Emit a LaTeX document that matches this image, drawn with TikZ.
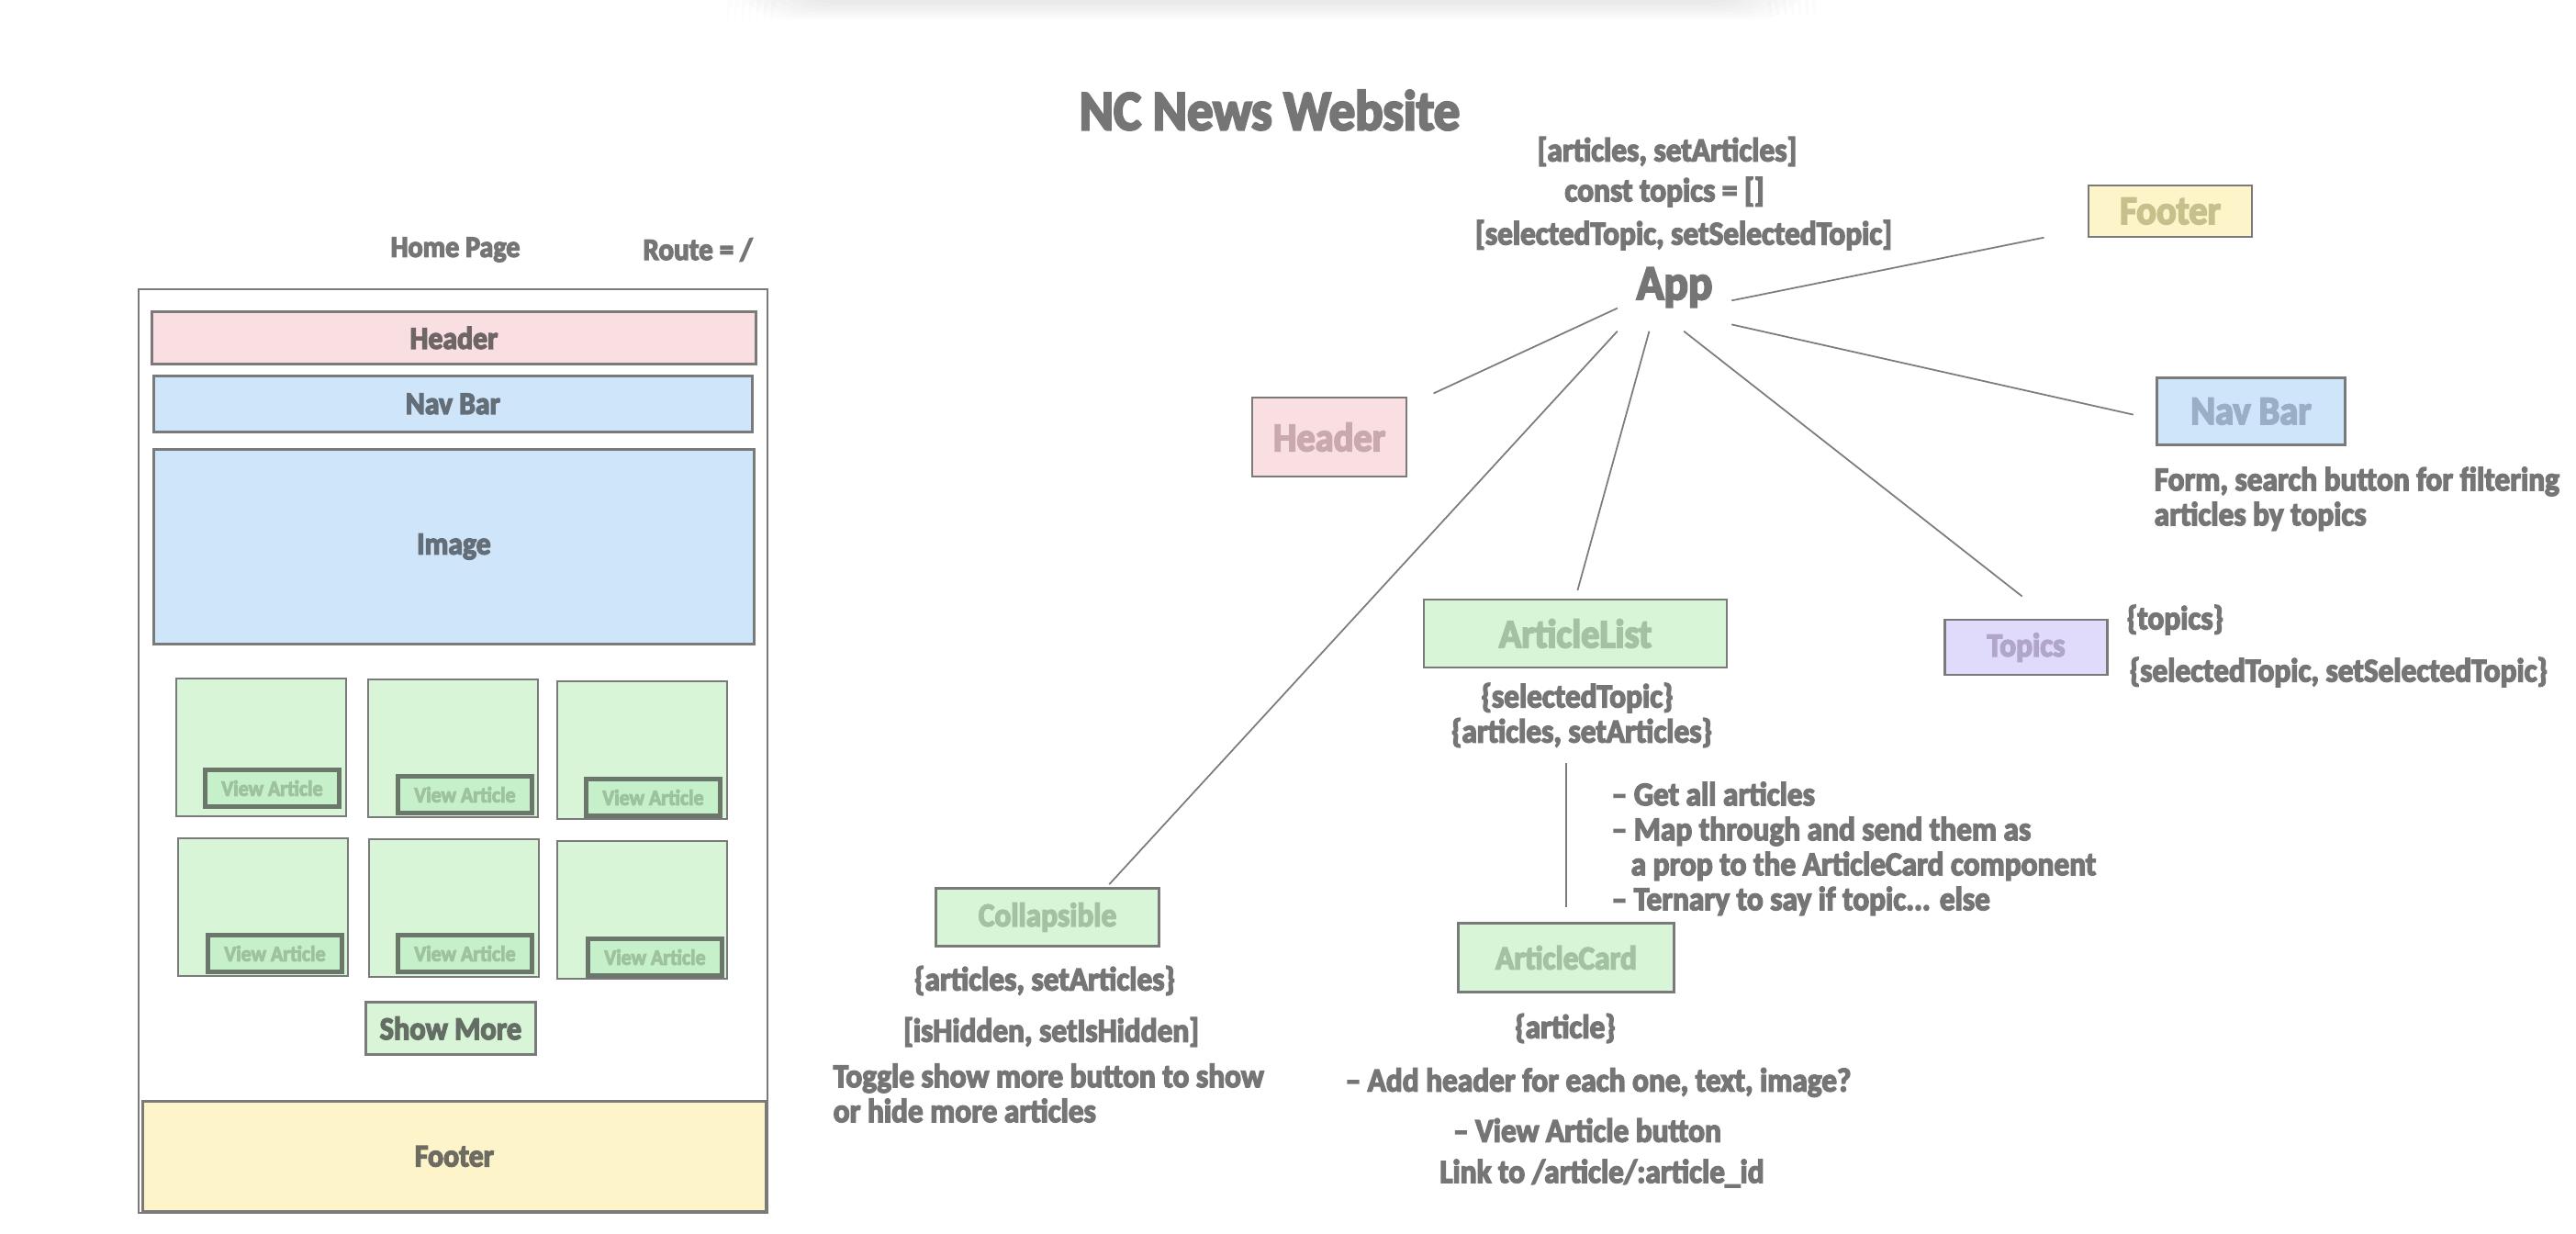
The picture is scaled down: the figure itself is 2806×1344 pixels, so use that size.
\documentclass[tikz,border=0pt]{standalone}
\usepackage{fontspec}
\setmainfont{Carlito}[FakeStretch=0.92, BoldFeatures={FakeBold=4}]
\usetikzlibrary{calc, positioning}

\definecolor{ink}{HTML}{757575}
\definecolor{edge}{HTML}{7A7A7A}
\definecolor{wire}{HTML}{7C7C7C}
\definecolor{pinkf}{HTML}{FADFE2}
\definecolor{bluef}{HTML}{CFE5FA}
\definecolor{yellf}{HTML}{FDF5C9}
\definecolor{greenf}{HTML}{D8F5D8}
\definecolor{btnf}{HTML}{C6F0C9}
\definecolor{btnedge}{HTML}{6B776B}
\definecolor{purpf}{HTML}{E0DBFA}
\definecolor{pinkt}{HTML}{C9A9AD}
\definecolor{bluet}{HTML}{9AAFC6}
\definecolor{yellt}{HTML}{C6C08C}
\definecolor{greent}{HTML}{A2C2A2}
\definecolor{purpt}{HTML}{AFA6CA}
\definecolor{btnt}{HTML}{9EC29E}
\definecolor{wfpink}{HTML}{6E6567}
\definecolor{wfblue}{HTML}{636E78}
\definecolor{wfgreen}{HTML}{646E64}
\definecolor{wfyell}{HTML}{6E6C62}

\newcommand{\fs}[1]{\fontsize{#1}{1.05\dimexpr #1pt\relax}\selectfont\bfseries}

\begin{document}
\begin{tikzpicture}[x=0.1mm, y=-0.1mm,
    box/.style={draw=edge, line width=0.8pt, inner sep=0pt},
    note/.style={font=\fs{10.3}, text=ink, inner sep=0pt},
    link/.style={draw=wire, line width=0.5pt}]
    \useasboundingbox (0,0) rectangle (2806,1344);
    % faint shadow at the top edge
    \foreach \k in {0,...,6}
        \fill[black, opacity=0.012, rounded corners=20] (840-\k*8,-40) rectangle (1930+\k*8,4+\k*3);

    \node[font=\fs{17.5}, text=ink] (title) at (1383,120) {NC News Website};

    % home page wireframe
    \node[font=\fs{9.3}, text=ink] (homelbl) at (496,272) {Home Page};
    \node[font=\fs{9.6}, text=ink] (routelbl) at (760,272) {Route = /};
    \node[box, line width=0.6pt, anchor=north west, minimum width=68.5mm, minimum height=100.6mm] (page) at (150,314) {};
    \node[box, fill=pinkf, anchor=north west, minimum width=65.8mm, minimum height=5.7mm,
        font=\fs{9.8}, text=wfpink] (wfheader) at (164,338) {Header};
    \node[box, fill=bluef, anchor=north west, minimum width=65.2mm, minimum height=6.1mm,
        font=\fs{9.8}, text=wfblue] (wfnav) at (166,408) {Nav Bar};
    \node[box, fill=bluef, anchor=north west, minimum width=65.4mm, minimum height=21.2mm,
        font=\fs{9.8}, text=wfblue] (wfimage) at (166,488) {Image};
    \foreach \i/\cx/\cy/\bx/\by in {1/191/738/221/836, 2/400/739/431/843, 3/606/741/636/846,
                                    4/193/912/224/1016, 5/401/913/431/1016, 6/606/915/638/1020} {
        \node[box, line width=0.6pt, fill=greenf, anchor=north west, minimum width=18.5mm, minimum height=15mm] (card\i) at (\cx,\cy) {};
        \node[draw=btnedge, line width=1.4pt, fill=btnf, anchor=north west, minimum width=14.6mm,
            minimum height=4mm, inner sep=0pt, font=\fs{6.8}, text=btnt] (btn\i) at (\bx,\by) {View Article};
    }
    \node[box, fill=greenf, anchor=north west, minimum width=18.5mm, minimum height=5.7mm,
        font=\fs{10}, text=wfgreen] (showmore) at (397,1090) {Show More};
    \node[box, fill=yellf, anchor=north west, minimum width=67.9mm, minimum height=12mm,
        font=\fs{9.8}, text=wfyell] (wffooter) at (154,1198) {Footer};

    % component tree
    \node[note] (state1) at (1816,165) {[articles, setArticles]};
    \node[note] (state2) at (1813,209) {const topics = []};
    \node[note] (state3) at (1834,256) {[selectedTopic, setSelectedTopic]};
    \node[font=\fs{15.2}, text=ink, minimum width=12.3mm, minimum height=9.4mm, inner sep=0pt] (app) at (1824,313) {App};

    \node[box, fill=yellf, minimum width=17.8mm, minimum height=5.6mm, font=\fs{12.5}, text=yellt] (footer) at (2364,230) {Footer};
    \node[box, fill=pinkf, minimum width=16.8mm, minimum height=8.6mm, font=\fs{12.5}, text=pinkt] (header) at (1448,476) {Header};
    \node[box, fill=bluef, minimum width=20.5mm, minimum height=7.3mm, font=\fs{12.5}, text=bluet] (navbar) at (2452,448) {Nav Bar};
    \node[box, fill=greenf, minimum width=33mm, minimum height=7.4mm, font=\fs{12.5}, text=greent] (articlelist) at (1716,690) {ArticleList};
    \node[box, fill=purpf, minimum width=17.7mm, minimum height=6mm, font=\fs{10.3}, text=purpt] (topics) at (2207,705) {Topics};
    \node[box, fill=greenf, minimum width=24.3mm, minimum height=6.3mm, font=\fs{10.3}, text=greent] (collapsible) at (1141,999) {Collapsible};
    \node[box, fill=greenf, minimum width=23.5mm, minimum height=7.5mm, font=\fs{10.3}, text=greent] (articlecard) at (1706,1043) {ArticleCard};

    \node[note, anchor=north west, align=left] (formnote) at (2346,508) {Form, search button for filtering\\articles by topics};
    \node[note] (alprops1) at (1718,760) {\{selectedTopic\}};
    \node[note] (alprops2) at (1723,798) {\{articles, setArticles\}};
    \node[note, anchor=west] (topprops1) at (2316,675) {\{topics\}};
    \node[note, anchor=west] (topprops2) at (2319,732) {\{selectedTopic, setSelectedTopic\}};
    \node[note, anchor=north west, align=left] (alnote) at (1755,851) {-- Get all articles\\-- Map through and send them as\\\hspace{2.1mm}a prop to the ArticleCard component\\-- Ternary to say if topic... else};
    \node[note] (colprops1) at (1138,1068) {\{articles, setArticles\}};
    \node[note] (colprops2) at (1145,1124) {[isHidden, setIsHidden]};
    \node[note, anchor=north west, align=left] (colnote) at (907,1158) {Toggle show more button to show\\or hide more articles};
    \node[note] (cardprops) at (1705,1120) {\{article\}};
    \node[note] (cardnote1) at (1741,1179) {-- Add header for each one, text, image?};
    \node[note] (cardnote2) at (1729,1231) {-- View Article button};
    \node[note] (cardnote3) at (1745,1278) {Link to /article/:article\_id};

    \draw[link, shorten >=4.8mm] (app.-13) -- (footer.192);
    \draw[link, shorten >=3.1mm] (app.200) -- (header.22);
    \draw[link, shorten >=0.4mm] (app.south west) -- (collapsible.27);
    \draw[link, shorten >=0.9mm] (app.240) -- (articlelist.north);
    \draw[link, shorten >=3.9mm] (app.-78) -- (topics.50);
    \draw[link, shorten >=2.5mm] (app.-33) -- (navbar.185);
    \draw[link, shorten <=10.3mm, shorten >=1.6mm] (articlelist.south -| articlecard) -- (articlecard.north);
\end{tikzpicture}
\end{document}
